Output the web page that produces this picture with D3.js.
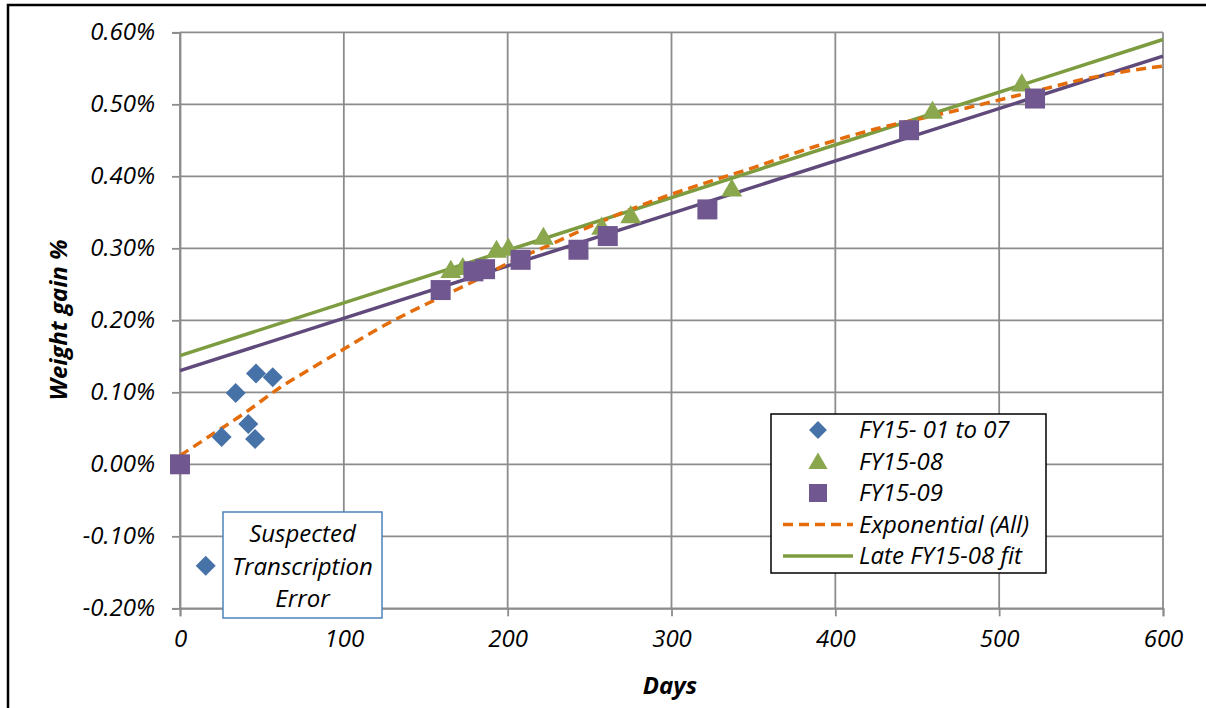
<!DOCTYPE html>
<html><head><meta charset="utf-8">
<script src="https://cdn.jsdelivr.net/npm/d3@7"></script>
<style>
html,body{margin:0;padding:0;background:#fff;}
text{font-family:"Open Sans",sans-serif;font-style:italic;fill:#000;}
</style></head>
<body><svg id="chart" width="1206" height="708"></svg>
<script>
// ---- data ----
const blueDays = [15.7, 25.4, 34.0, 41.7, 45.8, 46.4, 56.6];
const blueVals = [-0.141, 0.038, 0.099, 0.056, 0.035, 0.126, 0.121];
const greenDays = [165.3, 172.6, 193.2, 200.4, 221.8, 257.4, 275.1, 336.8, 459.3, 513.8];
const greenVals = [0.270, 0.274, 0.298, 0.301, 0.316, 0.330, 0.346, 0.383, 0.491, 0.529];
const purpleDays = [0, 159.1, 179.1, 186.2, 207.9, 243.2, 261.1, 321.9, 445.0, 521.9];
const purpleVals = [0, 0.242, 0.268, 0.271, 0.284, 0.298, 0.317, 0.354, 0.464, 0.508];
const expDays = [0, 20, 40, 60, 80, 100, 120, 140, 160, 180, 200, 225, 250, 275, 300, 325, 350, 375, 400, 425, 450, 475, 500, 525, 550, 575, 600];
const expVals = [0.012, 0.042, 0.072, 0.105, 0.133, 0.160, 0.187, 0.211, 0.233, 0.255, 0.279, 0.304, 0.330, 0.354, 0.375, 0.394, 0.412, 0.432, 0.450, 0.466, 0.479, 0.492, 0.506, 0.520, 0.534, 0.545, 0.553];
const greenFitDays = [0, 600];
const greenFitVals = [0.151, 0.590];
const purpleFitDays = [0, 600];
const purpleFitVals = [0.130, 0.567];
const xTicks = [0, 100, 200, 300, 400, 500, 600];
const yTicks = [-0.2, -0.1, 0, 0.1, 0.2, 0.3, 0.4, 0.5, 0.6];
const legendLabels = ["FY15- 01 to 07", "FY15-08", "FY15-09", "Exponential (All)", "Late FY15-08 fit"];
const noteLines = ["Suspected", "Transcription", "Error"];

// ---- styles ----
const C = {blue:"#4672a8", green:"#8aa74e", purple:"#70578f", orange:"#e46c0a",
           greenLine:"#7d9c40", purpleLine:"#604a7b", grid:"#8c8c8c"};
const FS = 24;
const LW = 3.5;

const svg = d3.select("#chart");
const x = d3.scaleLinear().domain([0, 600]).range([180, 1163]);
const y = d3.scaleLinear().domain([-0.2, 0.6]).range([608.3, 32.3]);

// outer frame
svg.append("rect").attr("x", 8).attr("y", 5).attr("width", 1210).attr("height", 720)
  .attr("fill", "none").attr("stroke", "#000").attr("stroke-width", 2.5);

// gridlines
const g = svg.append("g");
g.selectAll(".hg").data(yTicks).join("line")
  .attr("x1", x(0)).attr("x2", x(600)).attr("y1", d => y(d)).attr("y2", d => y(d))
  .attr("stroke", C.grid).attr("stroke-width", 1.8);
g.selectAll(".vg").data(xTicks).join("line")
  .attr("y1", y(0.6)).attr("y2", y(-0.2)).attr("x1", d => x(d)).attr("x2", d => x(d))
  .attr("stroke", C.grid).attr("stroke-width", 1.8);

// axes
const yAxis = d3.axisLeft(y).tickValues(yTicks).tickSize(8).tickPadding(17)
  .tickFormat(d => d.toFixed(2) + "%");
const xAxis = d3.axisBottom(x).tickValues(xTicks).tickSize(8).tickPadding(14)
  .tickFormat(d3.format("d"));
const ya = svg.append("g").attr("transform", `translate(${x(0)},0)`).call(yAxis);
const xa = svg.append("g").attr("transform", `translate(0,${y(-0.2)})`).call(xAxis);
[ya, xa].forEach(a => {
  a.attr("font-size", FS).attr("font-family", "Open Sans");
  a.select(".domain").attr("stroke", C.grid).attr("stroke-width", 1.8);
  a.selectAll(".tick line").attr("stroke", C.grid).attr("stroke-width", 1.8);
  a.selectAll(".tick text").attr("font-size", FS).attr("font-family", "Open Sans")
    .attr("font-style", "italic").attr("fill", "#000");
});

// axis titles
svg.append("text").attr("transform", "translate(67,320) rotate(-90)")
  .attr("text-anchor", "middle").attr("font-size", FS).attr("font-weight", "bold")
  .text("Weight gain %");
svg.append("text").attr("x", 670).attr("y", 694).attr("text-anchor", "middle")
  .attr("font-size", FS).attr("font-weight", "bold").text("Days");

// trend lines
const line = d3.line().x(d => x(d[0])).y(d => y(d[1]));
const zip = (a, b) => a.map((v, i) => [v, b[i]]);
svg.append("path").datum(zip(purpleFitDays, purpleFitVals)).attr("d", line)
  .attr("fill", "none").attr("stroke", C.purpleLine).attr("stroke-width", LW);
svg.append("path").datum(zip(greenFitDays, greenFitVals)).attr("d", line)
  .attr("fill", "none").attr("stroke", C.greenLine).attr("stroke-width", LW);
svg.append("path").datum(zip(expDays, expVals)).attr("d", line.curve(d3.curveMonotoneX))
  .attr("fill", "none").attr("stroke", C.orange).attr("stroke-width", LW)
  .attr("stroke-dasharray", "10,6");

// markers
const diamond = d3.symbol().type(d3.symbolSquare).size(200);
const tri = d3.symbol().type(d3.symbolTriangle).size(190);
svg.append("g").selectAll("path").data(zip(blueDays, blueVals)).join("path")
  .attr("d", diamond()).attr("fill", C.blue)
  .attr("transform", d => `translate(${x(d[0])},${y(d[1])}) rotate(45)`);
svg.append("g").selectAll("path").data(zip(greenDays, greenVals)).join("path")
  .attr("d", tri()).attr("fill", C.green)
  .attr("transform", d => `translate(${x(d[0])},${y(d[1]) + 2})`);
svg.append("g").selectAll("rect").data(zip(purpleDays, purpleVals)).join("rect")
  .attr("x", d => x(d[0]) - 10).attr("y", d => y(d[1]) - 10)
  .attr("width", 20).attr("height", 20).attr("fill", C.purple);

// annotation box
const nb = svg.append("g");
nb.append("rect").attr("x", 223).attr("y", 512).attr("width", 159).attr("height", 106)
  .attr("fill", "#fff").attr("stroke", "#4f81bd").attr("stroke-width", 1.5);
nb.selectAll("text").data(noteLines).join("text")
  .attr("x", 302.5).attr("y", (d, i) => 534 + i * 32.5).attr("dy", "0.35em")
  .attr("text-anchor", "middle").attr("font-size", FS).text(d => d);

// legend
const lg = svg.append("g");
lg.append("rect").attr("x", 771).attr("y", 414).attr("width", 275).attr("height", 159)
  .attr("fill", "#fff").attr("stroke", "#000").attr("stroke-width", 1.5);
const rowY = i => 430 + i * 31.5;
lg.selectAll("text").data(legendLabels).join("text")
  .attr("x", 859).attr("y", (d, i) => rowY(i)).attr("dy", "0.35em")
  .attr("font-size", FS).text(d => d);
lg.append("path").attr("d", d3.symbol().type(d3.symbolSquare).size(160)())
  .attr("fill", C.blue).attr("transform", `translate(818,${rowY(0)}) rotate(45)`);
lg.append("path").attr("d", d3.symbol().type(d3.symbolTriangle).size(160)())
  .attr("fill", C.green).attr("transform", `translate(818,${rowY(1) + 2})`);
lg.append("rect").attr("x", 809).attr("y", rowY(2) - 9).attr("width", 18).attr("height", 18)
  .attr("fill", C.purple);
lg.append("line").attr("x1", 783).attr("x2", 853).attr("y1", rowY(3)).attr("y2", rowY(3))
  .attr("stroke", C.orange).attr("stroke-width", LW).attr("stroke-dasharray", "10,6");
lg.append("line").attr("x1", 783).attr("x2", 853).attr("y1", rowY(4)).attr("y2", rowY(4))
  .attr("stroke", C.greenLine).attr("stroke-width", LW);
</script></body></html>
